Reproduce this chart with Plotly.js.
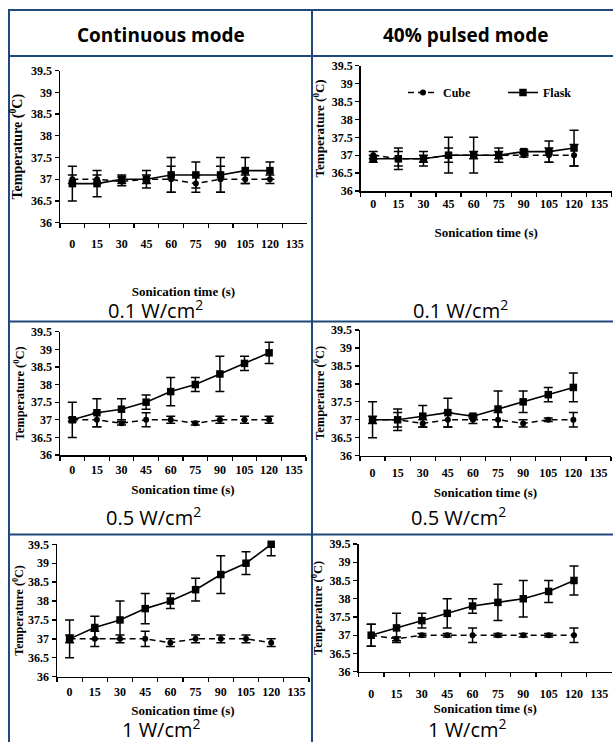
<!DOCTYPE html>
<html>
<head>
<meta charset="utf-8">
<script src="https://cdn.plot.ly/plotly-3.0.1.min.js"></script>
<style>
html,body{margin:0;padding:0;background:#ffffff;}
#chart{width:613px;height:742px;}
</style>
</head>
<body>
<div id="chart"></div>
<script>
// ---------- DATA ----------
const timeCategories = ['0','15','30','45','60','75','90','105','120','135'];
const sonicationTimes = ['0','15','30','45','60','75','90','105','120'];

// Continuous mode, 0.1 W/cm2
const flaskCont01    = [36.9, 36.9, 37.0, 37.0, 37.1, 37.1, 37.1, 37.2, 37.2];
const flaskCont01Err = [0.4, 0.3, 0.1, 0.2, 0.4, 0.3, 0.4, 0.3, 0.2];
const cubeCont01     = [37.0, 37.0, 36.95, 37.0, 37.0, 36.9, 37.0, 37.0, 37.0];
const cubeCont01Err  = [0.1, 0.1, 0.1, 0.1, 0.3, 0.2, 0.3, 0.1, 0.1];

// 40% pulsed mode, 0.1 W/cm2
const flaskPulse01    = [36.9, 36.9, 36.9, 37.0, 37.0, 37.0, 37.1, 37.1, 37.2];
const flaskPulse01Err = [0.1, 0.3, 0.2, 0.5, 0.5, 0.2, 0.05, 0.3, 0.5];
const cubePulse01     = [37.0, 36.9, 36.9, 37.0, 37.0, 37.0, 37.0, 37.0, 37.0];
const cubePulse01Err  = [0.1, 0.2, 0.1, 0.2, 0.1, 0.1, 0.05, 0.2, 0.3];

// Continuous mode, 0.5 W/cm2
const flaskCont05    = [37.0, 37.2, 37.3, 37.5, 37.8, 38.0, 38.3, 38.6, 38.9];
const flaskCont05Err = [0.5, 0.4, 0.3, 0.2, 0.4, 0.2, 0.5, 0.2, 0.3];
const cubeCont05     = [37.0, 37.0, 36.9, 37.0, 37.0, 36.9, 37.0, 37.0, 37.0];
const cubeCont05Err  = [0.05, 0.2, 0.05, 0.2, 0.1, 0.05, 0.1, 0.1, 0.1];

// 40% pulsed mode, 0.5 W/cm2
const flaskPulse05    = [37.0, 37.0, 37.1, 37.2, 37.1, 37.3, 37.5, 37.7, 37.9];
const flaskPulse05Err = [0.5, 0.3, 0.3, 0.4, 0.05, 0.5, 0.3, 0.2, 0.4];
const cubePulse05     = [37.0, 37.0, 36.9, 37.0, 37.0, 37.0, 36.9, 37.0, 37.0];
const cubePulse05Err  = [0.1, 0.2, 0.1, 0.2, 0.1, 0.2, 0.1, 0.05, 0.2];

// Continuous mode, 1 W/cm2
const flaskCont1    = [37.0, 37.3, 37.5, 37.8, 38.0, 38.3, 38.7, 39.0, 39.5];
const flaskCont1Err = [0.5, 0.3, 0.5, 0.4, 0.2, 0.3, 0.5, 0.3, 0.3];
const cubeCont1     = [37.0, 37.0, 37.0, 37.0, 36.9, 37.0, 37.0, 37.0, 36.9];
const cubeCont1Err  = [0.1, 0.2, 0.1, 0.2, 0.1, 0.1, 0.1, 0.1, 0.1];

// 40% pulsed mode, 1 W/cm2
const flaskPulse1    = [37.0, 37.2, 37.4, 37.6, 37.8, 37.9, 38.0, 38.2, 38.5];
const flaskPulse1Err = [0.3, 0.4, 0.2, 0.4, 0.2, 0.5, 0.5, 0.3, 0.4];
const cubePulse1     = [37.0, 36.9, 37.0, 37.0, 37.0, 37.0, 37.0, 37.0, 37.0];
const cubePulse1Err  = [0.3, 0.05, 0.05, 0.05, 0.2, 0.05, 0.05, 0.05, 0.2];

const modeTitles = ['Continuous mode', '40% pulsed mode'];
const intensityLabels = ['0.1 W/cm<sup>2</sup>', '0.5 W/cm<sup>2</sup>', '1 W/cm<sup>2</sup>'];
const seriesNames = ['Cube', 'Flask'];
const xTitle = 'Sonication time (s)';
const yTitle = 'Temperature (<sup>0</sup>C)';

// ---------- LAYOUT HELPERS ----------
const W = 613, H = 742;
const px = v => v / W;
const py = v => 1 - v / H;

const serif = 'Liberation Serif, Times New Roman, serif';
const sans = 'Open Sans, Noto Sans, sans-serif';
const gridColor = '#1F497D';

const panels = [
  {flask: flaskCont01, flaskErr: flaskCont01Err, cube: cubeCont01, cubeErr: cubeCont01Err,
   xpx: [60, 307], ypx: [70.7, 222.7], tls: 9, xts: 37, yts: 5, yfs: 14, legend: false},
  {flask: flaskPulse01, flaskErr: flaskPulse01Err, cube: cubePulse01, cubeErr: cubePulse01Err,
   xpx: [360.7, 611.7], ypx: [65.7, 191], tls: 1, xts: 18, yts: 4, yfs: 13, legend: true},
  {flask: flaskCont05, flaskErr: flaskCont05Err, cube: cubeCont05, cubeErr: cubeCont05Err,
   xpx: [60, 306], ypx: [331.7, 455], tls: 3, xts: 9, yts: 3, yfs: 12.5, legend: false},
  {flask: flaskPulse05, flaskErr: flaskPulse05Err, cube: cubePulse05, cubeErr: cubePulse05Err,
   xpx: [360, 611], ypx: [330, 455.7], tls: 5, xts: 9, yts: 3, yfs: 12.5, legend: false},
  {flask: flaskCont1, flaskErr: flaskCont1Err, cube: cubeCont1, cubeErr: cubeCont1Err,
   xpx: [57, 309], ypx: [544.3, 676.7], tls: 3, xts: 8, yts: 2, yfs: 12, legend: false},
  {flask: flaskPulse1, flaskErr: flaskPulse1Err, cube: cubePulse1, cubeErr: cubePulse1Err,
   xpx: [358.5, 612], ypx: [544, 671.7], tls: 10, xts: 4, yts: 4, yfs: 12.5, legend: false}
];

const traces = [];
const layout = {
  width: W, height: H,
  margin: {l: 0, r: 0, t: 0, b: 0, pad: 0, autoexpand: false},
  paper_bgcolor: '#ffffff', plot_bgcolor: 'rgba(0,0,0,0)',
  showlegend: true,
  legend: {
    orientation: 'h', x: px(403), y: py(78), xanchor: 'left', yanchor: 'top',
    bgcolor: 'rgba(0,0,0,0)', font: {family: serif, size: 12, color: '#000', weight: 'bold'},
    itemwidth: 30, entrywidth: 55, entrywidthmode: 'pixels', tracegroupgap: 0, traceorder: 'normal'
  },
  shapes: [], annotations: []
};

panels.forEach((p, i) => {
  const n = i + 1;
  const xa = 'x' + (n === 1 ? '' : n), ya = 'y' + (n === 1 ? '' : n);
  const xKey = 'xaxis' + (n === 1 ? '' : n), yKey = 'yaxis' + (n === 1 ? '' : n);
  traces.push({
    type: 'scatter', mode: 'lines+markers', name: seriesNames[0],
    x: sonicationTimes, y: p.cube, xaxis: xa, yaxis: ya, showlegend: p.legend,
    line: {color: '#000', width: 1.5, dash: '6px,4px'},
    marker: {symbol: 'circle', size: 6, color: '#000'},
    error_y: {type: 'data', array: p.cubeErr, visible: true, color: '#000', thickness: 1.5, width: 4.5},
    cliponaxis: false, hoverinfo: 'skip'
  });
  traces.push({
    type: 'scatter', mode: 'lines+markers', name: seriesNames[1],
    x: sonicationTimes, y: p.flask, xaxis: xa, yaxis: ya, showlegend: p.legend,
    line: {color: '#000', width: 1.6},
    marker: {symbol: 'square', size: 7.5, color: '#000'},
    error_y: {type: 'data', array: p.flaskErr, visible: true, color: '#000', thickness: 1.5, width: 4.5},
    cliponaxis: false, hoverinfo: 'skip'
  });
  layout[xKey] = {
    domain: [px(p.xpx[0]), px(p.xpx[1])], anchor: ya,
    type: 'category', categoryorder: 'array', categoryarray: timeCategories,
    range: [-0.5, 9.5], tickson: 'boundaries', tickangle: 0,
    ticks: 'outside', ticklen: 4, tickwidth: 1.3, tickcolor: '#000',
    showline: true, linecolor: '#000', linewidth: 1.5, showgrid: false, zeroline: false,
    tickfont: {family: serif, size: 12, color: '#000', weight: 'bold'},
    ticklabelstandoff: p.tls, fixedrange: true,
    title: {text: xTitle, standoff: p.xts, font: {family: serif, size: 13, color: '#000', weight: 'bold'}}
  };
  layout[yKey] = {
    domain: [py(p.ypx[1]), py(p.ypx[0])], anchor: xa,
    range: [36, 39.5], tick0: 36, dtick: 0.5,
    ticks: 'outside', ticklen: 4, tickwidth: 1.3, tickcolor: '#000',
    showline: true, linecolor: '#000', linewidth: 1.5, showgrid: false, zeroline: false,
    tickfont: {family: serif, size: 12, color: '#000', weight: 'bold'}, fixedrange: true,
    title: {text: yTitle, standoff: p.yts, font: {family: serif, size: p.yfs, color: '#000', weight: 'bold'}}
  };
});

// table grid lines
const gridLines = [
  [9, 10, 613, 10], [9, 56, 613, 56], [9, 321.5, 613, 321.5], [9, 534.5, 613, 534.5],
  [9, 9, 9, 742], [312, 9, 312, 742]
];
gridLines.forEach(g => layout.shapes.push({
  type: 'line', xref: 'paper', yref: 'paper',
  x0: px(g[0]), y0: py(g[1]), x1: px(g[2]), y1: py(g[3]),
  line: {color: gridColor, width: 2}
}));

// header and intensity labels
const headerPos = [[161, 35], [465, 35]];
modeTitles.forEach((t, i) => layout.annotations.push({
  text: t, xref: 'paper', yref: 'paper', x: px(headerPos[i][0]), y: py(headerPos[i][1]),
  xanchor: 'center', yanchor: 'middle', showarrow: false,
  font: {family: sans, size: 19, color: '#000', weight: 'bold'}
}));
const labelPos = [
  [[155, 309], [460, 309]],
  [[153, 516], [458, 516]],
  [[161, 728], [467, 728]]
];
intensityLabels.forEach((t, r) => labelPos[r].forEach(pos => layout.annotations.push({
  text: t, xref: 'paper', yref: 'paper', x: px(pos[0]), y: py(pos[1]),
  xanchor: 'center', yanchor: 'middle', showarrow: false,
  font: {family: sans, size: 20, color: '#000'}
})));

Plotly.newPlot('chart', traces, layout, {staticPlot: true, displayModeBar: false});
</script>
</body>
</html>
